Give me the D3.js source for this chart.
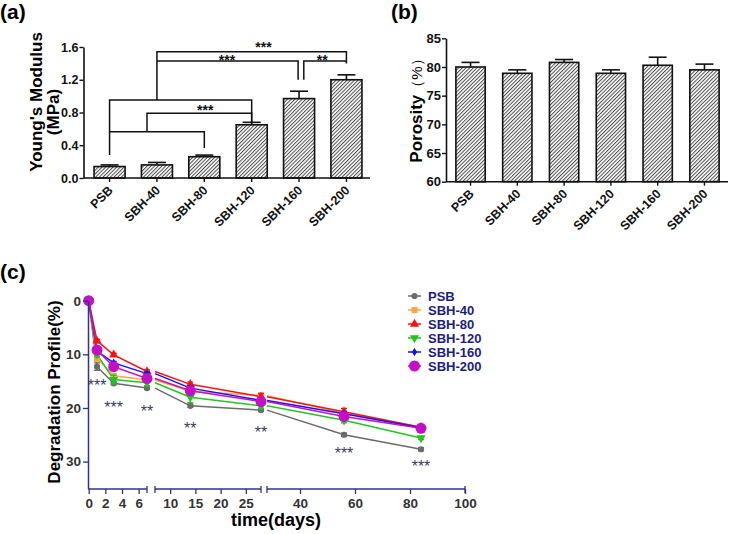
<!DOCTYPE html>
<html><head><meta charset="utf-8">
<script src="https://cdn.jsdelivr.net/npm/d3@7"></script>
<style>body{margin:0;background:#fff} svg{display:block} text{font-family:Arial,"Liberation Sans",sans-serif}</style>
</head><body><svg id="c" width="729" height="534"></svg>
<script>
// ---------- data ----------
const groups = ["PSB","SBH-40","SBH-80","SBH-120","SBH-160","SBH-200"];
const modulusMean = [0.14,0.16,0.26,0.65,0.97,1.20];
const modulusErr  = [0.02,0.03,0.02,0.03,0.09,0.06];
const modulusTicks = [0,0.4,0.8,1.2,1.6];
const porosityMean = [80.0,78.9,80.8,78.9,80.3,79.5];
const porosityErr  = [0.8,0.6,0.5,0.6,1.4,1.0];
const porosityTicks = [60,65,70,75,80,85];
// significance brackets for (a): polylines of [group position, modulus value]
const modulusBrackets = [
  [[0,0.28],[0,0.953],[3,0.953],[3,0.67]],
  [[0,0.565],[2,0.565],[2,0.366]],
  [[0.79,0.565],[0.79,0.79],[3,0.79],[3,0.67]],
  [[1,0.953],[1,1.543],[5,1.543],[5,1.40]],
  [[1,1.43],[3.98,1.43],[3.98,1.2]],
  [[4.1,1.2],[4.1,1.43],[5,1.43]]
];
const modulusStars = [[3.25,1.633,"***"],[2.48,1.474,"***"],[4.49,1.474,"**"],[2.02,0.864,"***"]];

const days = [0,1,3,7,14,28,56,84];
const degPSB    = [0,12.3,15.4,16.3,19.6,20.4,25.0,27.7];
const degSBH40  = [0,10.7,14.0,14.8,16.9,17.7,21.0,23.6];
const degSBH80  = [0,7.5,10.1,13.2,15.6,17.9,20.7,23.6];
const degSBH120 = [0,10.0,14.7,15.3,18.0,19.6,22.3,25.6];
const degSBH160 = [0,9.4,11.6,13.6,16.3,18.6,21.1,23.7];
const degSBH200 = [0,9.2,12.3,14.5,16.8,18.8,21.6,23.8];
const errPSB    = [0,0.7,0.3,0.3,0.3,0.3,0.3,0.3];
const errSBH40  = [0,0.6,0.4,0.4,0.4,0.4,0.4,0.4];
const errSBH80  = [0,0.3,0.3,0.3,0.4,0.6,0.6,0.3];
const errSBH120 = [0,0.5,0.8,0.6,1.0,0.5,0.5,0.3];
const errSBH160 = [0,0.3,0.3,0.3,0.4,0.4,0.4,0.3];
const errSBH200 = [0,0.4,0.4,0.4,0.6,0.5,0.5,0.3];
const degTicksY = [0,10,20,30];
const segTicks = [[0,2,4,6],[10,15,20,25],[40,60,80,100]];
const starDays  = [1,3,7,14,28,56,84];
const starLevel = [15.1,19.3,20.0,23.2,23.9,27.8,30.3];
const starText  = ["***","***","**","**","**","***","***"];

// ---------- drawing ----------
const svg = d3.select("#c");
const defs = svg.append("defs");
const pat = defs.append("pattern").attr("id","hatch").attr("patternUnits","userSpaceOnUse")
  .attr("width",2.6).attr("height",2.6).attr("patternTransform","rotate(45)");
pat.append("rect").attr("width",2.6).attr("height",2.6).attr("fill","#fff");
pat.append("line").attr("x1",0.5).attr("y1",0).attr("x2",0.5).attr("y2",2.6).attr("stroke","#4a4a4a").attr("stroke-width",1.0);

function barPanel(o){
  const x = d3.scaleBand().domain(groups).range(o.xr).paddingInner(o.pi).paddingOuter(o.po);
  const y = d3.scaleLinear().domain(o.yd).range(o.yr);
  const g = svg.append("g");
  g.selectAll("rect.bar").data(groups).join("rect").attr("class","bar")
    .attr("x",d=>x(d)).attr("width",x.bandwidth())
    .attr("y",(d,i)=>y(o.mean[i])).attr("height",(d,i)=>y(o.yd[0])-y(o.mean[i]))
    .attr("fill","url(#hatch)").attr("stroke","#111").attr("stroke-width",1.6);
  const cx = d=>x(d)+x.bandwidth()/2;
  g.selectAll("line.err").data(groups).join("line").attr("class","err")
    .attr("x1",cx).attr("x2",cx).attr("y1",(d,i)=>y(o.mean[i])).attr("y2",(d,i)=>y(o.mean[i]+o.err[i]))
    .attr("stroke","#111").attr("stroke-width",1.6);
  g.selectAll("line.cap").data(groups).join("line").attr("class","cap")
    .attr("x1",d=>cx(d)-9).attr("x2",d=>cx(d)+9).attr("y1",(d,i)=>y(o.mean[i]+o.err[i])).attr("y2",(d,i)=>y(o.mean[i]+o.err[i]))
    .attr("stroke","#111").attr("stroke-width",1.6);
  const ya = g.append("g").attr("transform",`translate(${o.axisX},0)`)
    .call(d3.axisLeft(y).tickValues(o.ticks).tickFormat(o.fmt).tickSize(4).tickSizeOuter(0));
  ya.select(".domain").attr("stroke","#111").attr("stroke-width",1.6);
  ya.selectAll(".tick line").attr("stroke","#111").attr("stroke-width",1.4);
  ya.selectAll(".tick text").attr("font-size",o.fs).attr("font-weight","bold").attr("fill","#111").attr("x",-5);
  const xa = g.append("g").attr("transform",`translate(0,${o.yr[0]})`)
    .call(d3.axisBottom(x).tickSize(4).tickSizeOuter(0));
  xa.select(".domain").remove();
  xa.append("line").attr("x1",o.axisX).attr("x2",o.xr[1]).attr("stroke","#111").attr("stroke-width",1.6);
  xa.selectAll(".tick line").attr("stroke","#111").attr("stroke-width",1.4);
  xa.selectAll(".tick text").attr("font-size",12.5).attr("font-weight","bold").attr("fill","#111")
    .attr("text-anchor","end").attr("dy",0).attr("y",0)
    .attr("transform","translate(4,13) rotate(-45)");
  return {x,y,g};
}

// (a)
const A = barPanel({xr:[86,370],pi:0.345,po:0.17,yd:[0,1.6],yr:[178,47],mean:modulusMean,err:modulusErr,
  ticks:modulusTicks,fmt:d3.format(".1f"),axisX:83.5,fs:12.5});
const posA = p => A.x(groups[0]) + A.x.bandwidth()/2 + p*A.x.step();
const lineA = d3.line().x(d=>posA(d[0])).y(d=>A.y(d[1]));
A.g.selectAll("path.br").data(modulusBrackets).join("path").attr("class","br")
  .attr("d",lineA).attr("fill","none").attr("stroke","#111").attr("stroke-width",1.5);
A.g.selectAll("text.st").data(modulusStars).join("text").attr("class","st")
  .attr("x",d=>posA(d[0])).attr("y",d=>A.y(d[1])+8).attr("text-anchor","middle")
  .attr("font-size",14).attr("font-weight","bold").attr("fill","#111").text(d=>d[2]);
svg.append("text").attr("transform","translate(42,102) rotate(-90)").attr("text-anchor","middle")
  .attr("font-size",17).attr("font-weight","bold").text("Young's Modulus");
svg.append("text").attr("transform","translate(59,112) rotate(-90)").attr("text-anchor","middle")
  .attr("font-size",17).attr("font-weight","bold").text("(MPa)");
svg.append("text").attr("x",0).attr("y",19).attr("font-family","'Liberation Serif','Times New Roman',serif")
  .attr("font-size",21).attr("font-weight","bold").text("(a)");

// (b)
const B = barPanel({xr:[447,728],pi:0.374,po:0.19,yd:[60,85],yr:[181.7,38.3],mean:porosityMean,err:porosityErr,
  ticks:porosityTicks,fmt:d3.format("d"),axisX:446,fs:13});
const tb = svg.append("text").attr("transform","translate(422,107) rotate(-90)").attr("text-anchor","middle").attr("font-size",17);
tb.append("tspan").attr("font-weight","bold").text("Porosity");
tb.append("tspan").attr("font-weight","normal").attr("font-size",15).text("（%）");
svg.append("text").attr("x",391).attr("y",19).attr("font-family","'Liberation Serif','Times New Roman',serif")
  .attr("font-size",21).attr("font-weight","bold").text("(b)");

// (c)
const navy = "#2f3190";
const yC = d3.scaleLinear().domain([0,35]).range([300.7,488.4]);
const segs = [
  {x:d3.scaleLinear().domain([0,7]).range([88.7,147]), lo:88},
  {x:d3.scaleLinear().domain([7,28]).range([155,261]), lo:155},
  {x:d3.scaleLinear().domain([28,100]).range([267,465]), lo:267}
];
const series = [
  {name:groups[0],v:degPSB,e:errPSB,c:"#6b6b6b",sym:d3.symbolCircle,size:30,rot:0},
  {name:groups[1],v:degSBH40,e:errSBH40,c:"#ffa545",sym:d3.symbolSquare,size:36,rot:0},
  {name:groups[2],v:degSBH80,e:errSBH80,c:"#ff1010",sym:d3.symbolTriangle,size:36,rot:0},
  {name:groups[3],v:degSBH120,e:errSBH120,c:"#1ec81e",sym:d3.symbolTriangle,size:36,rot:180},
  {name:groups[4],v:degSBH160,e:errSBH160,c:"#1010ff",sym:d3.symbolDiamond,size:22,rot:0},
  {name:groups[5],v:degSBH200,e:errSBH200,c:"#c410c4",sym:d3.symbolCircle,size:95,rot:0}
];
const gc = svg.append("g");
segs.forEach((s,si)=>{
  const [d0,d1] = s.x.domain();
  const idx = days.map((d,i)=>i).filter(i=>days[i]>=d0 && days[i]<=d1);
  series.forEach(se=>{
    const pts = idx.map(i=>[days[i],se.v[i],se.e[i]]);
    gc.append("path").datum(pts).attr("fill","none").attr("stroke",se.c).attr("stroke-width",1.5)
      .attr("d",d3.line().x(d=>s.x(d[0])).y(d=>yC(d[1])));
  });
  series.forEach(se=>{
    const pts = idx.filter(i=>si===0 || days[i]>d0).map(i=>[days[i],se.v[i],se.e[i]]);
    const eb = pts.filter(d=>d[2]>0);
    gc.selectAll(null).data(eb).join("path").attr("fill","none").attr("stroke",se.c).attr("stroke-width",1.3)
      .attr("d",d=>{const X=s.x(d[0]),a=yC(d[1]-d[2]),b=yC(d[1]+d[2]);return `M${X-3},${a}H${X+3}M${X},${a}V${b}M${X-3},${b}H${X+3}`;});
    gc.selectAll(null).data(pts).join("path")
      .attr("transform",d=>`translate(${s.x(d[0])},${yC(d[1])}) rotate(${se.rot})`)
      .attr("d",d3.symbol().type(se.sym).size(se.size)()).attr("fill",se.c);
  });
  const ax = gc.append("g").attr("transform","translate(0,489)")
    .call(d3.axisBottom(s.x).tickValues(segTicks[si]).tickFormat(d3.format("d")).tickSize(5).tickSizeOuter(0));
  ax.select(".domain").remove();
  ax.append("line").attr("x1",s.lo).attr("x2",s.x.range()[1]).attr("stroke",navy).attr("stroke-width",1.5);
  ax.append("line").attr("x1",s.x.range()[1]).attr("x2",s.x.range()[1]).attr("y1",-3).attr("y2",4).attr("stroke",navy).attr("stroke-width",1.3);
  if(si>0) ax.append("line").attr("x1",s.lo).attr("x2",s.lo).attr("y1",-3).attr("y2",4).attr("stroke",navy).attr("stroke-width",1.3);
  ax.selectAll(".tick line").attr("stroke",navy).attr("stroke-width",1.3);
  ax.selectAll(".tick text").attr("font-size",13.5).attr("font-weight","bold").attr("fill","#333").attr("y",9);
});
const yax = gc.append("g").attr("transform","translate(88,0)")
  .call(d3.axisLeft(yC).tickValues(degTicksY).tickFormat(d3.format("d")).tickSize(5).tickSizeOuter(0));
yax.select(".domain").attr("stroke",navy).attr("stroke-width",1.5);
yax.selectAll(".tick line").attr("stroke",navy).attr("stroke-width",1.3);
yax.selectAll(".tick text").attr("font-size",13.5).attr("font-weight","bold").attr("fill","#333").attr("x",-7);
gc.selectAll("text.cst").data(starDays).join("text").attr("class","cst")
  .attr("x",d=>segs[d<=7?0:(d<=28?1:2)].x(d)).attr("y",(d,i)=>yC(starLevel[i])+9)
  .attr("text-anchor","middle").attr("font-size",16).attr("fill","#3c3c5c").text((d,i)=>starText[i]);
svg.append("text").attr("transform","translate(60,392) rotate(-90)").attr("text-anchor","middle")
  .attr("font-size",17).attr("font-weight","bold").text("Degradation Profile(%)");
svg.append("text").attr("x",276).attr("y",526).attr("text-anchor","middle")
  .attr("font-size",18).attr("font-weight","bold").text("time(days)");
svg.append("text").attr("x",0).attr("y",279).attr("font-family","'Liberation Serif','Times New Roman',serif")
  .attr("font-size",21).attr("font-weight","bold").text("(c)");
const lg = svg.append("g").attr("transform","translate(408,296)");
series.forEach((se,i)=>{
  const r = lg.append("g").attr("transform",`translate(0,${i*14})`);
  r.append("line").attr("x1",0).attr("x2",13).attr("stroke",se.c).attr("stroke-width",1.5);
  r.append("path").attr("transform",`translate(6.5,0) rotate(${se.rot})`).attr("d",d3.symbol().type(se.sym).size(se.size)()).attr("fill",se.c);
  r.append("text").attr("x",20).attr("y",5).attr("font-size",13).attr("font-weight","bold").attr("fill","#1c1c84").text(se.name);
});
</script></body></html>
